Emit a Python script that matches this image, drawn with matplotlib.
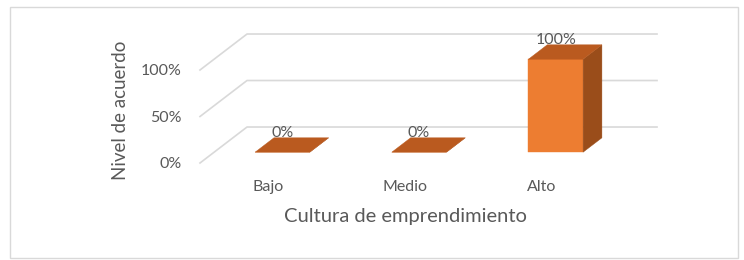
import matplotlib
matplotlib.use("Agg")
import matplotlib.pyplot as plt
from matplotlib.patches import Polygon, Rectangle

# data
categories = ["Bajo", "Medio", "Alto"]
values = [0, 0, 100]
y_ticks = [0, 50, 100]
y_tick_labels = ["0%", "50%", "100%"]
value_labels = ["0%", "0%", "100%"]

plt.rcParams['font.family'] = ['Lato', 'DejaVu Sans']
text_color = '#595959'
grid_color = '#D9D9D9'
front_color = '#ED7D31'
top_color = '#BA5A1F'
side_color = '#9A4D1A'

# oblique projection (depth 0 = front, 1 = back), in data units
DX = 0.344
DY = 38.7
BAR_W = 0.4
D0, D1 = 0.3, 0.7


def proj(x, y, d):
    return (x + d * DX, y + d * DY)


fig = plt.figure(figsize=(7.44, 2.60), dpi=100)
ax = fig.add_axes([200 / 744, 97 / 260, 410 / 744, 93 / 260])
ax.set_xlim(0, len(categories))
ax.set_ylim(0, 100)
for s in ax.spines.values():
    s.set_visible(False)

# chart frame
fig.add_artist(Rectangle((10 / 744, 2 / 260), 728 / 744, 251 / 260,
                         transform=fig.transFigure, fill=False,
                         edgecolor=grid_color, linewidth=1))

# gridlines: side wall diagonal + back wall line
n = len(categories)
for v in y_ticks:
    pts = [proj(0, v, 0), proj(0, v, 1), proj(n, v, 1)]
    ax.plot([p[0] for p in pts], [p[1] for p in pts], color=grid_color,
            linewidth=1.2, clip_on=False, zorder=1)

# bars
for i, (v, lab) in enumerate(zip(values, value_labels)):
    x0 = i + 0.5 - BAR_W / 2
    x1 = i + 0.5 + BAR_W / 2
    front = [proj(x0, 0, D0), proj(x1, 0, D0), proj(x1, v, D0), proj(x0, v, D0)]
    side = [proj(x1, 0, D0), proj(x1, 0, D1), proj(x1, v, D1), proj(x1, v, D0)]
    top = [proj(x0, v, D0), proj(x1, v, D0), proj(x1, v, D1), proj(x0, v, D1)]
    for poly, c in [(front, front_color), (side, side_color), (top, top_color)]:
        ax.add_patch(Polygon(poly, closed=True, facecolor=c, edgecolor=c,
                             linewidth=0.3, clip_on=False, zorder=3))
    lx, _ = proj(i + 0.5, v, D0)
    _, ly = proj(i + 0.5, v, D1)
    ax.annotate(lab, xy=(lx, ly), xytext=(0, 3.5), textcoords='offset points',
                ha='center', va='center', fontsize=11.5, color=text_color,
                zorder=4, annotation_clip=False)

ax.set_yticks(y_ticks)
ax.set_yticklabels(y_tick_labels)
ax.set_xticks([i + 0.5 for i in range(n)])
ax.set_xticklabels(categories)
ax.tick_params(axis='both', length=0, labelsize=11.5, labelcolor=text_color)
ax.tick_params(axis='y', pad=13)
ax.tick_params(axis='x', pad=12)

ax.set_xlabel("Cultura de emprendimiento", fontsize=14.5, color=text_color, va='center')
ax.xaxis.set_label_coords(0.5, -0.58)
ax.text(-0.195, 0.57, "Nivel de acuerdo", transform=ax.transAxes, rotation=90,
        ha='center', va='center', fontsize=13.5, color=text_color)

fig.savefig("out.png", dpi=100)
